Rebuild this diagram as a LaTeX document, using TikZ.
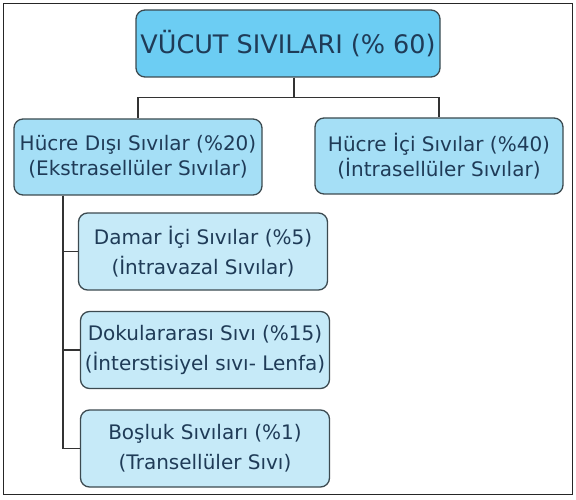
\documentclass[tikz,border=0pt]{standalone}
\usepackage{fontspec}
\setmainfont{DejaVu Sans}
\usepackage{tikz}
\usetikzlibrary{calc,positioning}

\definecolor{topfill}{HTML}{6CCDF3}
\definecolor{midfill}{HTML}{A5DFF6}
\definecolor{subfill}{HTML}{C6EAF8}
\definecolor{boxline}{HTML}{3C4A50}
\definecolor{textcol}{HTML}{1F3B57}

\begin{document}
\begin{tikzpicture}[x=1pt,y=-1pt,
		kutu/.style={draw=boxline, line width=1.3pt, rounded corners=9pt,
			text=textcol, align=center, inner sep=0pt},
		ana/.style={kutu, fill=topfill, minimum width=304pt, minimum height=67pt,
			font=\fontsize{25.5}{30}\selectfont},
		orta/.style={kutu, fill=midfill, minimum width=248pt, minimum height=76pt,
			font=\fontsize{20}{25}\selectfont},
		alt/.style={kutu, fill=subfill, minimum width=249pt, minimum height=77pt,
			font=\fontsize{20}{30}\selectfont},
		hat/.style={draw=black!80, line width=1.2pt}]
		\useasboundingbox (0,0) rectangle (576,500);
		\draw[black!85, line width=1pt] (3.5,3.5) rectangle (572.5,494);

		\node [ana] (vucut) at (288,43.5) {VÜCUT SIVILARI (\% 60)};
		\node [orta] (disi) at (138,157) {Hücre Dışı Sıvılar (\%20)\\(Ekstrasellüler Sıvılar)};
		\node [orta] (ici) at (439,156) {Hücre İçi Sıvılar (\%40)\\(İntrasellüler Sıvılar)};

		\node [alt] (damar) at (203,251.5) {Damar İçi Sıvılar (\%5)\\(İntravazal Sıvılar)};
		\node [alt] (doku) at (205,350) {Dokulararası Sıvı (\%15)\\(İnterstisiyel sıvı- Lenfa)};
		\node [alt] (bosluk) at (205,448.5) {Boşluk Sıvıları (\%1)\\(Transellüler Sıvı)};

		\draw[hat] ([xshift=6pt]vucut.south) -- ++(0,20) -| (disi.north);
		\draw[hat] ([xshift=6pt]vucut.south) -- ++(0,20) -| (ici.north);
		\draw[hat] ([xshift=-75pt]disi.south) |- (damar.west);
		\draw[hat] ([xshift=-75pt]disi.south) |- (doku.west);
		\draw[hat] ([xshift=-75pt]disi.south) |- (bosluk.west);
	\end{tikzpicture}
\end{document}
